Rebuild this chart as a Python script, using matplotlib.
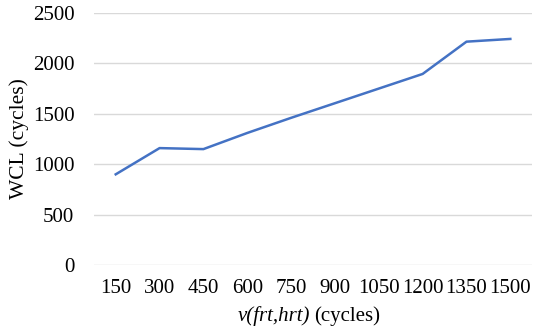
import matplotlib
matplotlib.use("Agg")
import matplotlib.pyplot as plt
from matplotlib.offsetbox import AnchoredOffsetbox, HPacker, TextArea

categories = ["150", "300", "450", "600", "750", "900", "1050", "1200", "1350", "1500"]
wcl = [900, 1160, 1150, 1310, 1460, 1605, 1750, 1895, 2215, 2242]
y_ticks = [0, 500, 1000, 1500, 2000, 2500]

plt.rcParams["font.family"] = "Liberation Serif"
FS = 15


def plot():
    fig = plt.figure(figsize=(5.36, 3.31), dpi=100)
    ax = fig.add_axes([0.175, 0.199, 0.818, 0.762])

    x = list(range(len(categories)))
    ax.plot(x, wcl, color="#4472C4", linewidth=1.8, solid_joinstyle="round")

    ax.set_xlim(-0.5, len(categories) - 0.5)
    ax.set_ylim(0, 2500)
    ax.set_yticks(y_ticks)
    ax.set_xticks(x)
    ax.set_xticklabels(categories)
    ax.tick_params(length=0, labelsize=FS, colors="#000000")
    ax.tick_params(axis="x", pad=10)
    ax.tick_params(axis="y", pad=14)

    ax.grid(axis="y", color="#D9D9D9", linewidth=1.0)
    ax.set_axisbelow(True)
    for s in ax.spines.values():
        s.set_visible(False)

    # x label: italic function name followed by upright unit
    label = HPacker(
        children=[
            TextArea("v(frt,hrt)", textprops=dict(style="italic", size=FS)),
            TextArea("(cycles)", textprops=dict(size=FS)),
        ],
        pad=0, sep=3, align="baseline",
    )
    box = AnchoredOffsetbox(loc="center", child=label, pad=0, borderpad=0,
                            frameon=False, bbox_to_anchor=(0.49, -0.2),
                            bbox_transform=ax.transAxes)
    ax.add_artist(box)

    ax.set_ylabel("WCL (cycles)", fontsize=FS + 0.5, labelpad=3)

    fig.savefig("out.png", dpi=100)


if __name__ == "__main__":
    plot()
